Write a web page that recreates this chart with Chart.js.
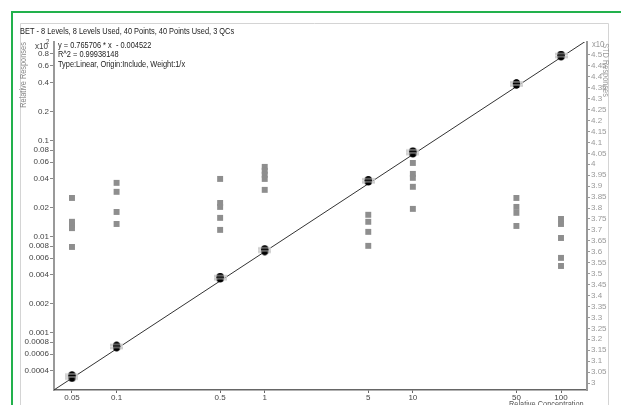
<!DOCTYPE html>
<html>
<head>
<meta charset="utf-8">
<script src="https://cdn.jsdelivr.net/npm/chart.js@4.4.1/dist/chart.umd.min.js"></script>
<style>
  html, body { margin: 0; padding: 0; background: #fff; }
  canvas { display: block; }
</style>
</head>
<body>
<canvas id="cal-chart" width="621" height="405"></canvas>
<script>
// Calibration levels (relative concentration)
const levels = [0.05, 0.1, 0.5, 1, 5, 10, 50, 100];

// Relative responses (x10^2), 5 replicates per level
const calResp = [
  [0.00034, 0.000345, 0.00035, 0.000355, 0.00036],
  [0.00071, 0.000715, 0.00072, 0.000725, 0.00073],
  [0.0037, 0.00372, 0.00375, 0.00377, 0.0038],
  [0.0071, 0.00722, 0.00726, 0.0073, 0.0074],
  [0.0378, 0.0381, 0.0383, 0.0385, 0.0388],
  [0.074, 0.0752, 0.0757, 0.0762, 0.0775],
  [0.385, 0.388, 0.39, 0.392, 0.395],
  [0.76, 0.767, 0.772, 0.776, 0.78]
];

// STD responses (right axis), per level
const stdResp = [
  [3.846, 3.737, 3.722, 3.708, 3.622],
  [3.915, 3.874, 3.782, 3.727],
  [3.933, 3.823, 3.805, 3.755, 3.700],
  [3.988, 3.970, 3.952, 3.933, 3.883],
  [3.769, 3.737, 3.691, 3.627],
  [4.006, 3.956, 3.938, 3.897, 3.796],
  [3.846, 3.805, 3.778, 3.718],
  [3.750, 3.727, 3.663, 3.572, 3.535]
];

// Fit line end points (y = 0.765706 * x - 0.004522)
const fitX = [0.0378, 149.8];
const fitY = [0.000254, 1.11];

// Tick labels
const concTicks = [0.05, 0.1, 0.5, 1, 5, 10, 50, 100];
const respTicks = [0.0004, 0.0006, 0.0008, 0.001, 0.002, 0.004, 0.006, 0.008,
  0.01, 0.02, 0.04, 0.06, 0.08, 0.1, 0.2, 0.4, 0.6, 0.8];
const stdTicks = [3, 3.05, 3.1, 3.15, 3.2, 3.25, 3.3, 3.35, 3.4, 3.45, 3.5, 3.55,
  3.6, 3.65, 3.7, 3.75, 3.8, 3.85, 3.9, 3.95, 4, 4.05, 4.1, 4.15, 4.2, 4.25,
  4.3, 4.35, 4.4, 4.45, 4.5];

const FONT = '"Liberation Sans", Arial, sans-serif';
Chart.defaults.font.family = FONT;

// Marker: black blob with light horizontal stripes
function makeCalMarker() {
  const c = document.createElement('canvas');
  c.width = 13;
  c.height = 9;
  const g = c.getContext('2d');
  g.fillStyle = '#000';
  g.beginPath();
  g.ellipse(6.5, 4.5, 3.5, 4, 0, 0, Math.PI * 2);
  g.fill();
  g.strokeStyle = 'rgba(205,205,205,0.9)';
  g.lineWidth = 1;
  g.beginPath();
  g.moveTo(0, 3); g.lineTo(13, 3);
  g.moveTo(0, 6); g.lineTo(13, 6);
  g.stroke();
  return c;
}

const calPoints = [];
const stdPoints = [];
levels.forEach((lv, i) => {
  calResp[i].forEach(v => calPoints.push({ x: lv, y: v }));
  stdResp[i].forEach(v => stdPoints.push({ x: lv, y: v }));
});
const fitPoints = fitX.map((x, i) => ({ x: x, y: fitY[i] }));

// text squeezed horizontally, like the narrow font of the original
function narrowText(ctx, text, x, y, sx) {
  ctx.save();
  ctx.translate(x, y);
  ctx.scale(sx, 1);
  ctx.fillText(text, 0, 0);
  ctx.restore();
}

const framePlugin = {
  id: 'frame',
  beforeDraw(chart) {
    const ctx = chart.ctx;
    ctx.save();
    ctx.fillStyle = '#fff';
    ctx.fillRect(0, 0, chart.width, chart.height);
    // green outer frame
    ctx.strokeStyle = '#22b14c';
    ctx.lineWidth = 2;
    ctx.beginPath();
    ctx.moveTo(12, 405); ctx.lineTo(12, 12); ctx.lineTo(621, 12);
    ctx.stroke();
    // gray panel
    ctx.strokeStyle = '#d4d4d4';
    ctx.lineWidth = 1;
    ctx.beginPath();
    ctx.moveTo(20.5, 405); ctx.lineTo(20.5, 23.5); ctx.lineTo(608.5, 23.5); ctx.lineTo(608.5, 405);
    ctx.stroke();
    ctx.restore();
  },
  afterDraw(chart) {
    const ctx = chart.ctx;
    ctx.save();
    ctx.textBaseline = 'middle';
    ctx.textAlign = 'left';
    ctx.fillStyle = '#222';
    ctx.font = '9.5px ' + FONT;
    narrowText(ctx, 'BET - 8 Levels, 8 Levels Used, 40 Points, 40 Points Used, 3 QCs', 20, 31, 0.78);
    narrowText(ctx, 'y = 0.765706 * x  - 0.004522', 58, 45, 0.78);
    narrowText(ctx, 'R^2 = 0.99938148', 58, 54.5, 0.78);
    narrowText(ctx, 'Type:Linear, Origin:Include, Weight:1/x', 58, 64, 0.78);
    // exponent markers
    ctx.fillStyle = '#444';
    narrowText(ctx, 'x10', 35, 46, 0.85);
    ctx.font = '7px ' + FONT;
    narrowText(ctx, '2', 46, 42, 0.85);
    ctx.fillStyle = '#999';
    ctx.font = '9px ' + FONT;
    narrowText(ctx, 'x10', 592, 45, 0.85);
    // x axis title (cut at the bottom)
    ctx.fillStyle = '#555';
    ctx.textBaseline = 'top';
    narrowText(ctx, 'Relative Concentration', 509, 400, 0.82);
    // left axis title
    ctx.save();
    ctx.translate(24, 75);
    ctx.rotate(-Math.PI / 2);
    ctx.scale(0.82, 1);
    ctx.textAlign = 'center';
    ctx.textBaseline = 'middle';
    ctx.fillStyle = '#888';
    ctx.fillText('Relative Responses', 0, 0);
    ctx.restore();
    // right axis title
    ctx.save();
    ctx.translate(605, 70);
    ctx.rotate(Math.PI / 2);
    ctx.scale(0.82, 1);
    ctx.textAlign = 'center';
    ctx.textBaseline = 'middle';
    ctx.fillStyle = '#999';
    ctx.fillText('STD Responses', 0, 0);
    ctx.restore();
    ctx.restore();
  }
};

const ctx = document.getElementById('cal-chart').getContext('2d');
new Chart(ctx, {
  type: 'scatter',
  data: {
    datasets: [
      {
        label: 'Calibration',
        data: calPoints,
        yAxisID: 'y',
        pointStyle: makeCalMarker(),
        pointRadius: 5,
        order: 0
      },
      {
        label: 'STD',
        data: stdPoints,
        yAxisID: 'y2',
        pointStyle: 'rect',
        pointRadius: 4.2,
        backgroundColor: '#8e8e8e',
        borderColor: '#8e8e8e',
        borderWidth: 0,
        order: 1
      },
      {
        label: 'Fit',
        type: 'line',
        data: fitPoints,
        yAxisID: 'y',
        borderColor: '#333',
        borderWidth: 1,
        pointRadius: 0,
        fill: false,
        order: 2
      }
    ]
  },
  options: {
    responsive: false,
    animation: false,
    layout: { padding: { top: 42, left: 0, right: 0, bottom: 0 } },
    plugins: {
      legend: { display: false },
      tooltip: { enabled: false }
    },
    scales: {
      x: {
        type: 'logarithmic',
        min: 0.0378,
        max: 149.8,
        afterBuildTicks: s => { s.ticks = concTicks.map(v => ({ value: v })); },
        afterFit: s => { s.height = 15; },
        ticks: {
          autoSkip: false,
          maxRotation: 0,
          padding: 0,
          color: '#444',
          font: { size: 8 },
          callback: v => String(v)
        },
        grid: { display: true, drawOnChartArea: false, drawTicks: true, tickLength: 3, color: '#666' },
        border: { display: true, color: '#666', width: 1.5 }
      },
      y: {
        type: 'logarithmic',
        position: 'left',
        min: 0.0002536,
        max: 1.066,
        afterBuildTicks: s => { s.ticks = respTicks.map(v => ({ value: v })); },
        afterFit: s => { s.width = 54; },
        ticks: {
          autoSkip: false,
          padding: 1,
          color: '#444',
          font: { size: 8 },
          callback: v => String(v)
        },
        grid: { display: true, drawOnChartArea: false, drawTicks: true, tickLength: 4, color: '#888' },
        border: { display: true, color: '#999', width: 2 }
      },
      y2: {
        type: 'linear',
        position: 'right',
        min: 2.968,
        max: 4.559,
        afterBuildTicks: s => { s.ticks = stdTicks.map(v => ({ value: v })); },
        afterFit: s => { s.width = 34; },
        ticks: {
          autoSkip: false,
          padding: 1,
          color: '#999',
          font: { size: 8 },
          callback: v => String(v)
        },
        grid: { display: true, drawOnChartArea: false, drawTicks: true, tickLength: 3, color: '#999' },
        border: { display: true, color: '#999', width: 2 }
      }
    }
  },
  plugins: [framePlugin]
});
</script>
</body>
</html>
